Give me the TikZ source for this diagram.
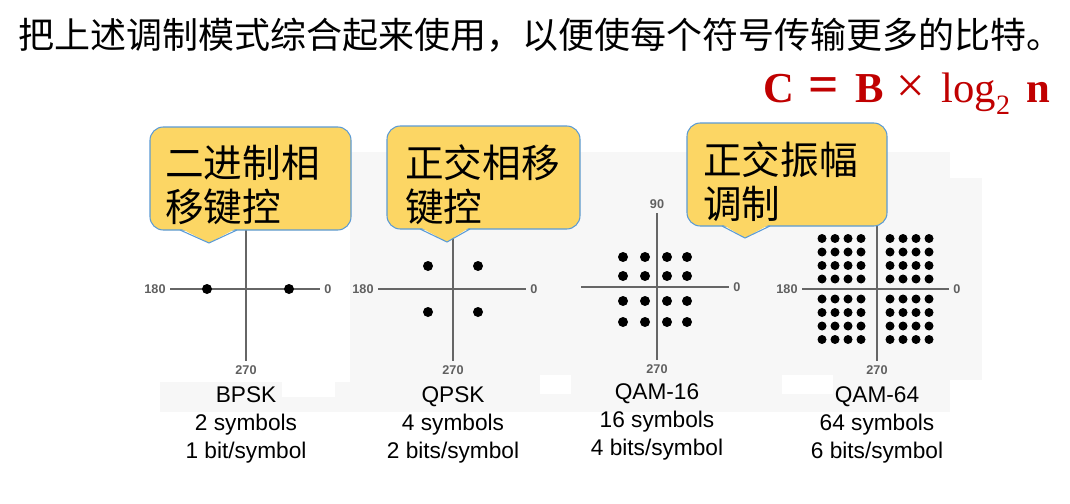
\documentclass[tikz,border=0pt]{standalone}
\usepackage{fontspec}
\setmainfont{Liberation Sans}
\newfontfamily\cjk{Noto Sans CJK SC}
\newfontfamily\fserif{Liberation Serif}
\usetikzlibrary{fit}
\definecolor{panel}{HTML}{F7F7F7}
\definecolor{cyell}{HTML}{FCD664}
\definecolor{cblue}{HTML}{5B9BD5}
\definecolor{axisgray}{HTML}{666666}
\definecolor{lblgray}{HTML}{606060}
\definecolor{fred}{HTML}{C00000}
\begin{document}
\begin{tikzpicture}[x=0.75pt,y=-0.75pt,
 axis/.style={draw=axisgray, line width=1.1pt},
 albl/.style={font=\bfseries\fontsize{9.5}{10}\selectfont, text=lblgray, inner sep=3.4pt},
 callbox/.style={draw=cblue, fill=cyell, line width=0.8pt, rounded corners=10pt, inner sep=0pt},
 pointer/.style={draw=cblue, line width=0.8pt},
 calltext/.style={font=\cjk\fontsize{29}{33}\selectfont, align=left, anchor=west, inner sep=0pt},
 caption/.style={font=\fontsize{17}{21}\selectfont, align=center, inner sep=0pt}]
\useasboundingbox (0,0) rectangle (1070,503);
\fill[white] (0,0) rectangle (1070,503);
% background panels
\fill[panel] (350,152) rectangle (950,412);
\fill[panel] (950,178) rectangle (982,380);
\fill[panel] (160,382) rectangle (350,412);
\fill[white] (282,382) rectangle (335,397);
\fill[white] (540,375) rectangle (571,394);
\fill[white] (782,375) rectangle (833,394);
% title and formula
\node[anchor=west, font=\cjk\fontsize{27}{30}\selectfont, inner sep=0pt] (title) at (18,35) {把上述调制模式综合起来使用，以便使每个符号传输更多的比特。};
\node[anchor=base east, text=fred, font=\fserif\fontsize{32}{33}\selectfont, inner sep=0pt] (formula) at (1050,103) {\textbf{C}\hspace{11pt}{\fontsize{40}{40}\selectfont\textbf{=}}\hspace{12pt}\textbf{B}\hspace{10pt}{\fontsize{38}{38}\selectfont ×}\hspace{12pt}log\raisebox{-0.28em}{\fontsize{21}{21}\selectfont 2}\hspace{12pt}\textbf{n}};
% BPSK
\node[albl] (b180) at (155,289) {180};
\node[albl] (b0) at (328,289) {0};
\node[albl] (b270) at (246,370) {270};
\coordinate (btop) at (246,150);
\draw[axis] (b180) -- (b0);
\draw[axis] (btop) -- (b270);
\foreach \x in {207,289} \fill (\x,289) circle (5);
% QPSK
\node[albl] (q180) at (363,289) {180};
\node[albl] (q0) at (534,289) {0};
\node[albl] (q270) at (453,370) {270};
\coordinate (qtop) at (453,230);
\draw[axis] (q180) -- (q0);
\draw[axis] (qtop) -- (q270);
\foreach \x in {428,478} \foreach \y in {266,312} \fill (\x,\y) circle (5);
% QAM-16
\coordinate (m16left) at (581,287);
\node[albl] (m0) at (737,287) {0};
\node[albl] (m90) at (657,204) {90};
\node[albl] (m270) at (657,369) {270};
\draw[axis] (m16left) -- (m0);
\draw[axis] (m90) -- (m270);
\foreach \x in {623,645,667,687} \foreach \y in {257,276,301,322} \fill (\x,\y) circle (5);
% QAM-64
\node[albl] (s180) at (787,289) {180};
\node[albl] (s0) at (957,289) {0};
\node[albl] (s270) at (877,370) {270};
\coordinate (stop) at (877,226);
\draw[axis] (s180) -- (s0);
\draw[axis] (stop) -- (s270);
\foreach \x in {822,835,848,861,890,903,916,929} \foreach \y in {238.5,252,265.5,279,299,312.5,326,339.5} \fill (\x,\y) circle (4.5);
% callouts
\node[callbox, fit={(150,127)(351,230)}] (c1) {};
\coordinate (c1a) at (180,230); \coordinate (c1tip) at (209,243); \coordinate (c1b) at (237,230);
\fill[cyell] ([yshift=1.5]c1a) -- (c1tip) -- ([yshift=1.5]c1b) -- cycle;
\draw[pointer] (c1a) -- (c1tip) -- (c1b);
\node[calltext] (t1) at (165,185) {二进制相\\移键控};

\node[callbox, fit={(387,126)(580,229)}] (c2) {};
\coordinate (c2a) at (420,229); \coordinate (c2tip) at (447,242); \coordinate (c2b) at (470,229);
\fill[cyell] ([yshift=1.5]c2a) -- (c2tip) -- ([yshift=1.5]c2b) -- cycle;
\draw[pointer] (c2a) -- (c2tip) -- (c2b);
\node[calltext] (t2) at (405,185) {正交相移\\键控};

\node[callbox, fit={(687,123)(887,226)}] (c3) {};
\coordinate (c3a) at (722,226); \coordinate (c3tip) at (745,238); \coordinate (c3b) at (770,226);
\fill[cyell] ([yshift=1.5]c3a) -- (c3tip) -- ([yshift=1.5]c3b) -- cycle;
\draw[pointer] (c3a) -- (c3tip) -- (c3b);
\node[calltext] (t3) at (703,182) {正交振幅\\调制};
% captions
\node[caption] (cap1) at (246,425) {BPSK\\2 symbols\\1 bit/symbol};
\node[caption] (cap2) at (453,425) {QPSK\\4 symbols\\2 bits/symbol};
\node[caption] (cap3) at (657,422) {QAM-16\\16 symbols\\4 bits/symbol};
\node[caption] (cap4) at (877,425) {QAM-64\\64 symbols\\6 bits/symbol};
\end{tikzpicture}
\end{document}
